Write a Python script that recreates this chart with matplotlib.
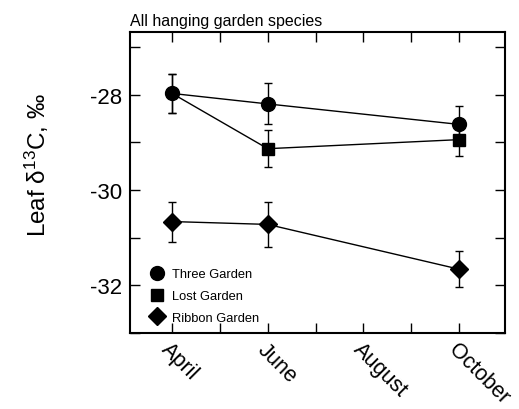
import matplotlib

matplotlib.use("Agg")
import matplotlib.pyplot as plt
from matplotlib.lines import Line2D
from matplotlib.ticker import MultipleLocator

plt.rcParams["font.family"] = ["Liberation Sans", "DejaVu Sans"]

# months as numbers (April=4 ... October=10)
month_ticks = [4, 6, 8, 10]
month_labels = ["April", "June", "August", "October"]

three_x = [4, 6, 10]
three_y = [-27.97, -28.19, -28.62]
three_err = [0.41, 0.43, 0.39]

lost_x = [4, 6, 10]
lost_y = [-27.97, -29.13, -28.94]
lost_err = [0.41, 0.39, 0.34]

ribbon_x = [4, 6, 10]
ribbon_y = [-30.66, -30.72, -31.66]
ribbon_err = [0.42, 0.47, 0.38]

# lost garden shares the April point with three garden, its marker is hidden there
series = [
    ("Lost Garden", lost_x, lost_y, lost_err, "s", 9, [1, 2]),
    ("Three Garden", three_x, three_y, three_err, "o", 10, None),
    ("Ribbon Garden", ribbon_x, ribbon_y, ribbon_err, "D", 9, None),
]
legend_order = ["Three Garden", "Lost Garden", "Ribbon Garden"]

fig = plt.figure(figsize=(5.19, 4.10), dpi=100)
ax = fig.add_axes([130 / 519, 1 - 334 / 410, 375 / 519, 301 / 410])

handles = {}
for name, xs, ys, es, mk, ms, every in series:
    ax.errorbar(xs, ys, yerr=es, color="black", marker=mk, markersize=ms,
                markevery=every, linewidth=1.0, elinewidth=1.0, capsize=3,
                capthick=1.0)
    handles[name] = Line2D([], [], color="black", marker=mk, markersize=ms,
                           linestyle="none", label=name)

ax.set_xlim(3.12, 10.96)
ax.set_ylim(-33.0, -26.68)
ax.set_xticks(month_ticks)
ax.set_xticklabels(month_labels, rotation=-45, ha="left", va="top",
                   rotation_mode="anchor", fontsize=15.5)
ax.xaxis.set_minor_locator(MultipleLocator(1))
ax.set_yticks([-28, -30, -32])
ax.set_yticklabels(["-28", "-30", "-32"], fontsize=16)
ax.yaxis.set_minor_locator(MultipleLocator(1))
ax.tick_params(which="both", direction="in", top=True, right=True,
               width=1.0, length=7)
ax.tick_params(axis="x", which="major", pad=4)
ax.tick_params(axis="y", which="major", pad=6)
for s in ax.spines.values():
    s.set_linewidth(1.5)

ax.set_ylabel(r"Leaf $\mathregular{\delta^{13}}$C, ‰", fontsize=17.5)
ax.yaxis.set_label_coords(-0.21, 0.56)
ax.set_title("All hanging garden species", fontsize=11.5, loc="left", pad=5)

ax.legend(handles=[handles[n] for n in legend_order], loc="lower left",
          bbox_to_anchor=(0.028, 0.0), frameon=False, fontsize=9.3,
          handletextpad=0.55, borderaxespad=0.3, labelspacing=0.75,
          handlelength=1.2)

fig.savefig("out.png", dpi=100)
